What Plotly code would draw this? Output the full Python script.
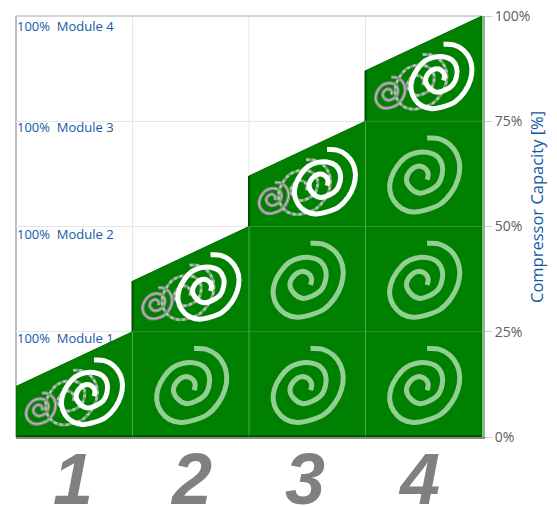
import plotly.graph_objects as go

# --- data ---
modules = [1, 2, 3, 4]
tick_labels = ["1", "2", "3", "4"]
capacity_start = [12, 37, 62, 87]
capacity_end = [25, 50, 75, 100]
module_names = ["100%  Module 1", "100%  Module 2", "100%  Module 3", "100%  Module 4"]
module_label_y = [23.5, 48.2, 73.6, 97.6]
y_ticks = [0, 25, 50, 75, 100]

# spiral glyph outline (glyph pixels around its centre)
spiral_x = [10, 45, 78, 100, 108, 102, 82, 50, 10, -30, -65, -90, -102, -98, -80, -55, -25, 10, 40, 55, 55, 42, 15, -15, -40, -52, -42, -20, 0, 13, 10]
spiral_y = [110, 108, 90, 60, 25, -15, -55, -88, -105, -112, -102, -78, -45, -10, 25, 52, 65, 67, 55, 30, 0, -30, -48, -55, -40, -15, 10, 25, 22, 5, -15]

W, H = 557, 507
L, R, T, B = 16, 482, 16, 437
UX = (R - L) / len(modules)      # pixels per module
UY = (B - T) / 100               # pixels per percent
GLYPH = 1 / 3                    # glyph units to pixels
DIGIT_SHIFT = [-1, 0, -2, -5]

GREEN = "#008000"
LIGHT = "#93CE93"
BLUE = "#1459A6"
GREY = "#5E5E5E"

fig = go.Figure()

# green capacity staircase
xs, ys = [], []
for m, a, b in zip(modules, capacity_start, capacity_end):
    xs += [m - 1, m]
    ys += [a, b]
xs += [modules[-1], 0, 0]
ys += [0, 0, capacity_start[0]]
fig.add_trace(go.Scatter(x=xs, y=ys, mode="lines", fill="toself", fillcolor=GREEN,
                         line=dict(color="#006A00", width=1), hoverinfo="skip"))

# dark risers between steps
for m, a, b in zip(modules[1:], capacity_start[1:], capacity_end[:-1]):
    fig.add_trace(go.Scatter(x=[m - 1, m - 1], y=[b, a], mode="lines",
                             line=dict(color="#005000", width=2), hoverinfo="skip"))

# light grid inside the green
for m, b in zip(modules[:-1], capacity_end[:-1]):
    fig.add_trace(go.Scatter(x=[m, m], y=[0, b], mode="lines",
                             line=dict(color="#4FA84F", width=1), hoverinfo="skip"))
    fig.add_trace(go.Scatter(x=[m, modules[-1]], y=[b, b], mode="lines",
                             line=dict(color="#2E962E", width=1), hoverinfo="skip"))

# dark base line
fig.add_trace(go.Scatter(x=[0, modules[-1]], y=[0, 0], mode="lines",
                         line=dict(color="#004A00", width=3), hoverinfo="skip", cliponaxis=False))


def spiral(cx, cy, scale, color, width, dash="solid"):
    """cx in axis units, cy in percent; glyph scaled to the axes."""
    px = [cx + v * GLYPH * scale / UX for v in spiral_x]
    py = [cy + v * GLYPH * scale / UY for v in spiral_y]
    fig.add_trace(go.Scatter(x=px, y=py, mode="lines", hoverinfo="skip",
                             line=dict(color=color, width=width, dash=dash, shape="spline", smoothing=1)))


for i, m in enumerate(modules):
    # idle compressors below the active one
    for r in range(i):
        spiral(m - 0.5, (r + 0.5) * 25 - 0.2, 1.0, LIGHT, 5)
    # running compressor with its motion ghosts
    base = i * 25
    spiral(m - 1 + 0.21, base + 6.8, 0.42, "#8C8C8C", 3.5)
    spiral(m - 1 + 0.21, base + 6.8, 0.42, "#C8C8C8", 1)
    spiral(m - 1 + 0.47, base + 9.4, 0.74, "#6FA06F", 3)
    spiral(m - 1 + 0.47, base + 9.4, 0.74, "#B5C5B5", 2.5, "dot")
    spiral(m - 1 + 0.645, base + 10.7, 0.87, "#FFFFFF", 5)

# module labels
for name, yv in zip(module_names, module_label_y):
    fig.add_annotation(x=0, y=yv, text=name, xref="x", yref="y", xanchor="left", yanchor="middle",
                       showarrow=False, xshift=-1, font=dict(family="Open Sans", size=13, color=BLUE))

# big module numbers under the axis
for m, lab, dx in zip(modules, tick_labels, DIGIT_SHIFT):
    fig.add_annotation(x=m - 0.5, y=0, xref="x", yref="y", text=lab, showarrow=False,
                       xanchor="center", yanchor="middle", yshift=-42, xshift=dx,
                       font=dict(family="Liberation Sans", size=72, color="#808080", weight="bold", style="italic"))

fig.add_annotation(x=(537 - L) / (R - L), y=(B - 207) / (B - T), xref="paper", yref="paper",
                   xanchor="center", yanchor="middle",
                   text="Compressor Capacity [%]", textangle=-90, showarrow=False,
                   font=dict(family="Open Sans", size=16.5, color=BLUE))

fig.update_layout(
    width=W, height=H, autosize=False, showlegend=False,
    paper_bgcolor="white", plot_bgcolor="white",
    margin=dict(l=L, r=W - R, t=T, b=H - B, pad=0),
    xaxis=dict(range=[0, len(modules)], automargin=False, showticklabels=False,
               ticks="", showgrid=False, zeroline=False, fixedrange=True,
               showline=True, linecolor="#8A8A8A", linewidth=2),
    yaxis=dict(range=[0, 100], side="right", tickmode="array", tickvals=y_ticks, automargin=False,
               ticktext=[f"{v}%" for v in y_ticks],
               tickfont=dict(family="Open Sans", size=14, color=GREY),
               ticks="outside", ticklen=7, tickcolor="#CCCCCC", tickwidth=1,
               showgrid=True, gridcolor="#E6E6E6", gridwidth=1, zeroline=False, fixedrange=True,
               showline=True, linecolor="#8DB98D", linewidth=3),
)
# remaining frame and white-area vertical grid
for m in modules[:-1]:
    fig.add_shape(type="line", xref="x", yref="paper", x0=m, x1=m, y0=0, y1=1, layer="below",
                  line=dict(color="#E6E6E6", width=1))
fig.add_shape(type="line", xref="paper", yref="paper", x0=0, x1=0, y0=0, y1=1, line=dict(color="#BDBDBD", width=2), layer="below")
fig.add_shape(type="line", xref="paper", yref="paper", x0=0, x1=1, y0=1, y1=1, line=dict(color="#C4C4C4", width=1.5), layer="below")

fig.write_html("out.html", config=dict(displayModeBar=False),
               post_script="document.body.style.margin='0';document.documentElement.style.overflow='hidden';")
